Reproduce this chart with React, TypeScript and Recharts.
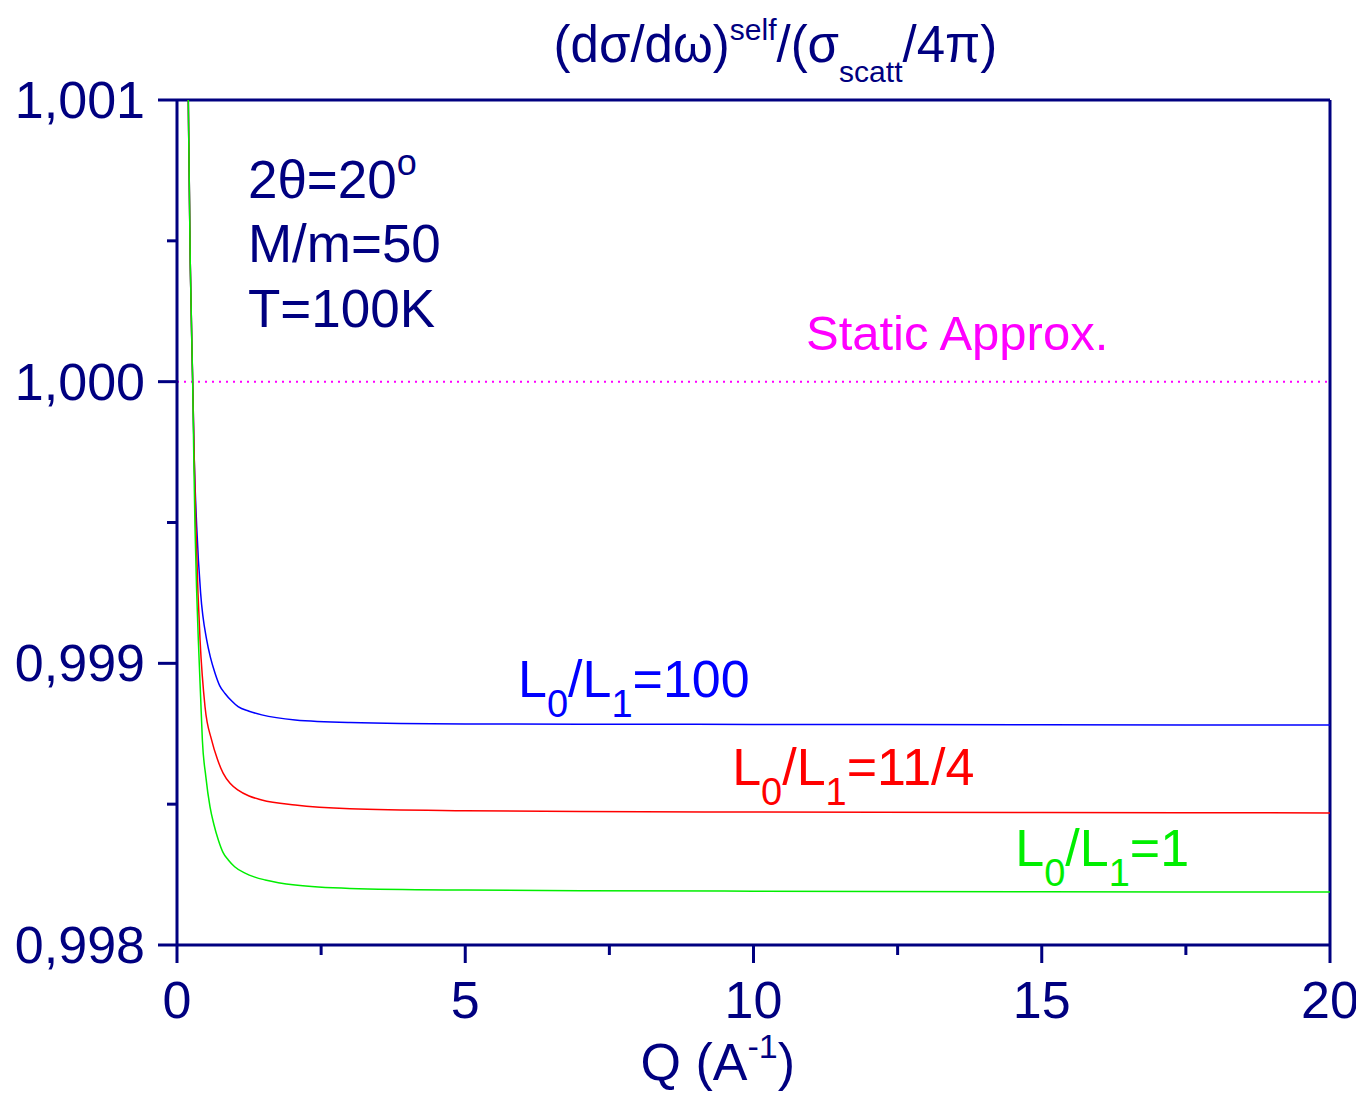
import React from 'react';
import { LineChart, Line, XAxis, YAxis, ReferenceLine, ReferenceDot } from 'recharts';

const NAVY = '#000080';
const FONT = '"Liberation Sans", Arial, Helvetica, sans-serif';

// Q (A^-1) and cross-section ratio for each L0/L1 series
const qBlue = [0.18, 0.196, 0.23, 0.272, 0.30, 0.342, 0.41, 0.515, 0.58, 0.66, 0.74, 0.833, 0.95, 1.06, 1.25, 1.47, 2.05, 3.0, 5.0, 7.0, 10.0, 15.0, 20.0];
const vBlue = [1.0013, 1.001, 1.00042, 1.0, 0.99972, 0.999485, 0.999249, 0.999083, 0.999021, 0.998965, 0.998921, 0.998893, 0.998866, 0.998846, 0.99883, 0.998817, 0.998799, 0.99879, 0.998785, 0.998784, 0.998783, 0.998782, 0.998781];

const qRed = [0.18, 0.196, 0.23, 0.272, 0.30, 0.327, 0.364, 0.40, 0.486, 0.60, 0.70, 0.80, 0.92, 1.06, 1.25, 1.47, 2.05, 3.0, 5.0, 7.0, 10.0, 15.0, 20.0];
const vRed = [1.0013, 1.001, 1.00042, 1.0, 0.99972, 0.99949, 0.999249, 0.999083, 0.998846, 0.998728, 0.99866, 0.99861, 0.998574, 0.99855, 0.998529, 0.998515, 0.998497, 0.998484, 0.998477, 0.998474, 0.998472, 0.99847, 0.998469];

const qGreen = [0.18, 0.196, 0.23, 0.272, 0.292, 0.312, 0.342, 0.37, 0.41, 0.44, 0.50, 0.572, 0.64, 0.717, 0.80, 0.89, 1.0, 1.18, 1.35, 1.53, 2.05, 3.0, 5.0, 7.0, 10.0, 15.0, 20.0];
const vGreen = [1.0013, 1.001, 1.00042, 1.0, 0.99972, 0.999485, 0.999249, 0.999083, 0.99888, 0.998728, 0.998598, 0.998491, 0.998428, 0.998373, 0.998328, 0.998302, 0.998278, 0.998255, 0.998241, 0.998231, 0.998213, 0.998201, 0.998195, 0.998193, 0.998191, 0.998189, 0.998188];

const xTicks = [0, 2.5, 5, 7.5, 10, 12.5, 15, 17.5, 20];
const yTicks = [0.998, 0.9985, 0.999, 0.9995, 1.0, 1.0005, 1.001];

const toRows = (q: number[], v: number[]) => q.map((x, i) => ({ q: x, v: v[i] }));
const blueRows = toRows(qBlue, vBlue);
const redRows = toRows(qRed, vRed);
const greenRows = toRows(qGreen, vGreen);

const isMajorY = (v: number) => Math.abs(v * 1000 - Math.round(v * 1000)) < 1e-6;
const isMajorX = (v: number) => Math.abs(v / 5 - Math.round(v / 5)) < 1e-6;

const XTick = (props: any) => {
  const { x, y, payload } = props;
  const major = isMajorX(payload.value);
  return (
    <g>
      <line x1={x} x2={x} y1={y} y2={y + (major ? 18 : 10)} stroke={NAVY} strokeWidth={3} />
      {major && (
        <text x={x} y={y + 73} textAnchor="middle" fill={NAVY} fontSize={52} fontFamily={FONT}>
          {String(payload.value)}
        </text>
      )}
    </g>
  );
};

const YTick = (props: any) => {
  const { x, y, payload } = props;
  const major = isMajorY(payload.value);
  return (
    <g>
      <line x1={x - (major ? 19 : 10)} x2={x} y1={y} y2={y} stroke={NAVY} strokeWidth={3} />
      {major && (
        <text x={x - 32} y={y + 18} textAnchor="end" fill={NAVY} fontSize={52} fontFamily={FONT}>
          {payload.value.toFixed(3).replace('.', ',')}
        </text>
      )}
    </g>
  );
};

const RatioLabel = (color: string, value: string) => (p: any) => (
  <text x={p.cx} y={p.cy} fill={color} fontSize={52} fontFamily={FONT}>
    <tspan>L</tspan>
    <tspan fontSize={38} dy={20}>0</tspan>
    <tspan dy={-20}>/L</tspan>
    <tspan fontSize={38} dy={20}>1</tspan>
    <tspan dy={-20}>{value}</tspan>
  </text>
);

const ParamsLabel = (p: any) => (
  <g fill={NAVY} fontSize={53} fontFamily={FONT}>
    <text x={p.cx} y={p.cy}>
      <tspan>2θ=20</tspan>
      <tspan fontSize={36} dy={-23}>o</tspan>
    </text>
    <text x={p.cx} y={p.cy + 64}>M/m=50</text>
    <text x={p.cx} y={p.cy + 129}>T=100K</text>
  </g>
);

const StaticLabel = (p: any) => (
  <text x={p.cx} y={p.cy} fill="#ff00ff" fontSize={49} fontFamily={FONT}>Static Approx.</text>
);

const TitleLabel = (p: any) => (
  <text x={p.cx} y={p.cy - 38} textAnchor="middle" fill={NAVY} fontSize={51} fontFamily={FONT}>
    <tspan>(dσ/dω)</tspan>
    <tspan fontSize={30} dy={-22}>self</tspan>
    <tspan dy={22}>/(σ</tspan>
    <tspan fontSize={30} dy={20}>scatt</tspan>
    <tspan dy={-20}>/4π)</tspan>
  </text>
);

const XTitle = (p: any) => (
  <text x={p.cx} y={p.cy + 135} textAnchor="middle" fill={NAVY} fontSize={52} fontFamily={FONT}>
    <tspan>Q (A</tspan>
    <tspan fontSize={34} dy={-22}>-1</tspan>
    <tspan dy={22}>)</tspan>
  </text>
);

export default function App() {
  return (
    <LineChart width={1350} height={1086} margin={{ top: 92, right: 28, bottom: 89, left: 79 }}>
      <XAxis
        dataKey="q"
        type="number"
        domain={[0, 20]}
        ticks={xTicks}
        interval={0}
        allowDataOverflow
        height={60}
        tickSize={0}
        tickMargin={0}
        tickLine={false}
        axisLine={{ stroke: NAVY, strokeWidth: 3 }}
        tick={<XTick />}
      />
      <YAxis
        type="number"
        domain={[0.998, 1.001]}
        ticks={yTicks}
        interval={0}
        allowDataOverflow
        width={90}
        tickSize={0}
        tickMargin={0}
        tickLine={false}
        axisLine={{ stroke: NAVY, strokeWidth: 3 }}
        tick={<YTick />}
      />
      <ReferenceLine y={1.001} stroke={NAVY} strokeWidth={3} ifOverflow="visible" />
      <ReferenceLine x={20} stroke={NAVY} strokeWidth={3} ifOverflow="visible" />
      <ReferenceLine y={1.0} stroke="#ff00ff" strokeWidth={2} strokeDasharray="2 5" />
      <Line data={blueRows} dataKey="v" type="monotone" stroke="#0000ff" strokeWidth={1.5} dot={false} isAnimationActive={false} />
      <Line data={redRows} dataKey="v" type="monotone" stroke="#ff0000" strokeWidth={1.5} dot={false} isAnimationActive={false} />
      <Line data={greenRows} dataKey="v" type="monotone" stroke="#00ee00" strokeWidth={1.5} dot={false} isAnimationActive={false} />
      <ReferenceDot x={1.23} y={1.000652} r={0} ifOverflow="visible" shape={ParamsLabel} />
      <ReferenceDot x={10.91} y={1.000112} r={0} ifOverflow="visible" shape={StaticLabel} />
      <ReferenceDot x={5.915} y={0.99888} r={0} ifOverflow="visible" shape={RatioLabel('#0000ff', '=100')} />
      <ReferenceDot x={9.63} y={0.998568} r={0} ifOverflow="visible" shape={RatioLabel('#ff0000', '=11/4')} />
      <ReferenceDot x={14.54} y={0.99828} r={0} ifOverflow="visible" shape={RatioLabel('#00ee00', '=1')} />
      <ReferenceDot x={10.38} y={1.001} r={0} ifOverflow="visible" shape={TitleLabel} />
      <ReferenceDot x={9.38} y={0.998} r={0} ifOverflow="visible" shape={XTitle} />
    </LineChart>
  );
}
